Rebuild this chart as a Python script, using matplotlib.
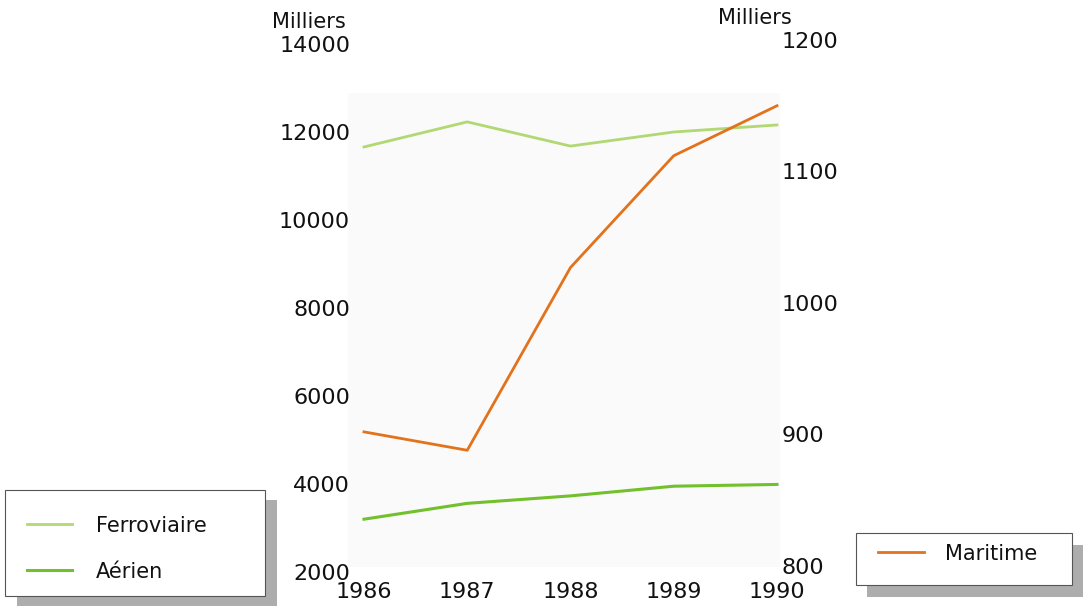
import matplotlib
matplotlib.use("Agg")
import matplotlib.pyplot as plt
from matplotlib.patches import Rectangle
from matplotlib.lines import Line2D

plt.rcParams['font.family'] = ['DejaVu Sans']

years = [1986, 1987, 1988, 1989, 1990]
ferroviaire = [11660, 12230, 11680, 12000, 12160]
aerien = [3200, 3560, 3730, 3950, 3990]
maritime = [902, 888, 1027, 1112, 1150]

left_ticks = [2000, 4000, 6000, 8000, 10000, 12000, 14000]
right_ticks = [800, 900, 1000, 1100, 1200]
year_labels = ["1986", "1987", "1988", "1989", "1990"]

c_ferro = "#b2d873"
c_aer = "#72c02c"
c_mar = "#e2721c"

W, H = 1088, 609
fig = plt.figure(figsize=(W / 100, H / 100), dpi=100)
fig.patch.set_facecolor("white")


def fx(x):
    return x / W


def fy(y):
    return 1 - y / H


# faint plot panel
fig.add_artist(Rectangle((fx(348), fy(567)), fx(780) - fx(348), fy(93) - fy(567),
                         transform=fig.transFigure, facecolor="#fafafa",
                         edgecolor="none", zorder=-5))

top_px, bot_px = 30, 580
ax = fig.add_axes([fx(364), fy(bot_px), fx(777) - fx(364), (bot_px - top_px) / H])
ax.set_facecolor("none")
ax.set_xlim(1986, 1990)
ax.set_ylim(14000 - (bot_px - 44) / 88 * 2000, 14000 + (44 - top_px) / 88 * 2000)

ax2 = ax.twinx()
ax2.set_facecolor("none")
ax2.set_ylim(1200 - (bot_px - 40) / 131.5 * 100, 1200 + (40 - top_px) / 131.5 * 100)

lf, = ax.plot(years, ferroviaire, color=c_ferro, lw=2.0, label="Ferroviaire", clip_on=False)
la, = ax.plot(years, aerien, color=c_aer, lw=2.2, label="Aérien", clip_on=False)
lm, = ax2.plot(years, maritime, color=c_mar, lw=2.0, label="Maritime", clip_on=False)

for a in (ax, ax2):
    for s in a.spines.values():
        s.set_visible(False)

ax.set_yticks(left_ticks)
ax.set_yticklabels([str(v) for v in left_ticks])
ax.tick_params(axis="y", length=0, pad=10, labelsize=16, labelcolor="#111111")
ax.set_xticks(years)
ax.set_xticklabels(year_labels)
ax.tick_params(axis="x", length=0, pad=1.5, labelsize=16, labelcolor="#111111")
ax2.set_yticks(right_ticks)
ax2.set_yticklabels([str(v) for v in right_ticks])
ax2.tick_params(axis="y", length=0, pad=3, labelsize=16, labelcolor="#111111")

fig.text(fx(272), fy(22), "Milliers", fontsize=15, ha="left", va="center", color="#111111")
fig.text(fx(718), fy(18), "Milliers", fontsize=15, ha="left", va="center", color="#111111")


def legend_box(x0, y0, x1, y1, dx, dy, entries):
    fig.add_artist(Rectangle((fx(x0 + dx), fy(y1 + dy)), fx(x1) - fx(x0), fy(y0) - fy(y1),
                             transform=fig.transFigure, facecolor="#adadad",
                             edgecolor="none", zorder=5))
    fig.add_artist(Rectangle((fx(x0), fy(y1)), fx(x1) - fx(x0), fy(y0) - fy(y1),
                             transform=fig.transFigure, facecolor="white",
                             edgecolor="#555555", lw=0.8, zorder=6))
    for (lx0, lx1, ly, tx, line) in entries:
        fig.add_artist(Line2D([fx(lx0), fx(lx1)], [fy(ly), fy(ly)], transform=fig.transFigure,
                              color=line.get_color(), lw=line.get_linewidth(), zorder=7))
        fig.text(fx(tx), fy(ly + 2), line.get_label(), fontsize=15, ha="left",
                 va="center", zorder=8, color="#111111")


legend_box(5, 490, 265, 596, 12, 10,
           [(27, 72, 524, 96, lf), (27, 72, 570, 96, la)])
legend_box(856, 533, 1072, 585, 11, 12,
           [(878, 924, 552, 945, lm)])

fig.savefig("out.png", dpi=100)
